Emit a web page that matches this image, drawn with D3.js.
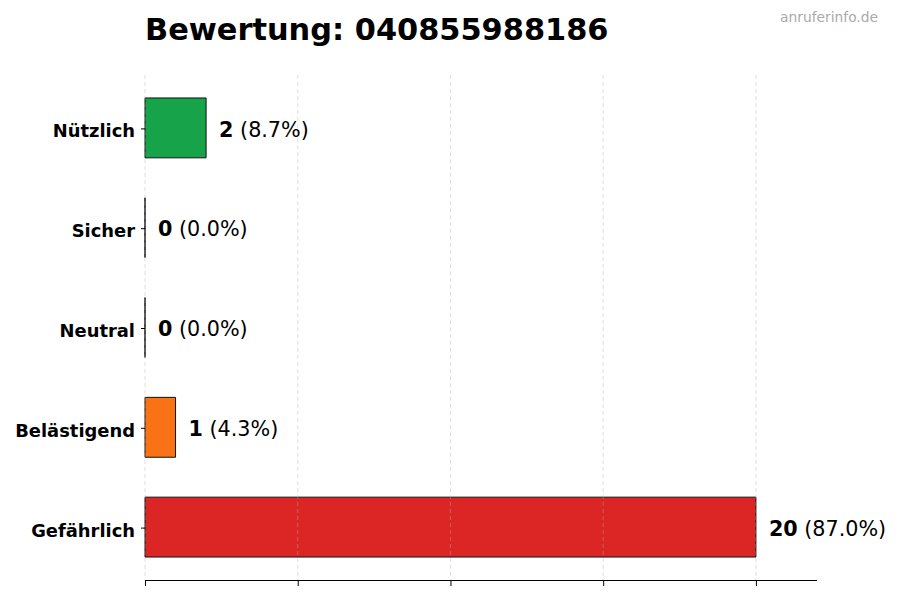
<!DOCTYPE html>
<html>
<head>
<meta charset="utf-8">
<script src="https://cdn.jsdelivr.net/npm/d3@7"></script>
<style>
  body { margin: 0; background: #fff; }
  svg { font-family: "DejaVu Sans", sans-serif; }
</style>
</head>
<body>
<div id="chart"></div>
<script>
const categories = ["Gefährlich", "Belästigend", "Neutral", "Sicher", "Nützlich"];
const counts = [20, 1, 0, 0, 2];
const percents = ["87.0%", "4.3%", "0.0%", "0.0%", "8.7%"];
const colors = ["#dc2626", "#f97316", "#9ca3af", "#3b82f6", "#16a34a"];
const xTicks = [0, 5, 10, 15, 20];
const title = "Bewertung: 040855988186";

const width = 900, height = 600;
const plotLeft = 145, plotRight = 817, plotTop = 75, plotBottom = 580;

const svg = d3.select("#chart")
    .append("svg")
    .attr("width", width)
    .attr("height", height);

const x = d3.scaleLinear()
    .domain([0, d3.max(counts) * 1.1])
    .range([plotLeft, plotRight]);

// index 0 at the bottom, bars 0.6 high, 5% margins
const y = d3.scaleLinear()
    .domain([-0.53, categories.length - 1 + 0.53])
    .range([plotBottom, plotTop]);

// bars as paths so that zero values still show their outline
svg.selectAll("path.bar")
    .data(counts)
    .enter()
    .append("path")
    .attr("class", "bar")
    .attr("d", (d, i) => {
        const y0 = y(i + 0.3), y1 = y(i - 0.3);
        return `M${x(0)},${y0}H${x(d)}V${y1}H${x(0)}Z`;
    })
    .attr("fill", (d, i) => colors[i])
    .attr("stroke", "#111")
    .attr("stroke-width", 1);

// dashed grid, drawn over the bars
svg.selectAll("line.grid")
    .data(xTicks)
    .enter()
    .append("line")
    .attr("class", "grid")
    .attr("x1", d => x(d))
    .attr("x2", d => x(d))
    .attr("y1", plotTop)
    .attr("y2", plotBottom)
    .attr("stroke", "#b0b0b0")
    .attr("stroke-opacity", 0.5)
    .attr("stroke-width", 0.8)
    .attr("stroke-dasharray", "4,3");

// x axis: spine + ticks, no labels
const xAxis = d3.axisBottom(x)
    .tickValues(xTicks)
    .tickSize(6)
    .tickFormat("");
svg.append("g")
    .attr("transform", `translate(0,${plotBottom})`)
    .call(xAxis)
    .call(g => g.select(".domain").attr("stroke", "#000").attr("stroke-width", 1.2)
        .attr("d", `M${plotLeft},0.5H${plotRight}`))
    .call(g => g.selectAll(".tick line").attr("stroke", "#000"));

// y ticks and labels, no spine
const yAxis = d3.axisLeft(y)
    .tickValues(d3.range(categories.length))
    .tickSize(4)
    .tickPadding(6)
    .tickFormat(i => categories[i]);
svg.append("g")
    .attr("transform", `translate(${plotLeft},0.5)`)
    .call(yAxis)
    .call(g => g.select(".domain").remove())
    .call(g => g.selectAll(".tick text")
        .attr("font-family", "DejaVu Sans")
        .attr("font-size", 17.9)
        .attr("font-weight", "bold")
        .attr("dy", "0.48em")
        .attr("fill", "#000"));

// value labels
const lbl = svg.selectAll("text.val")
    .data(counts)
    .enter()
    .append("text")
    .attr("class", "val")
    .attr("x", d => x(d) + 13)
    .attr("y", (d, i) => y(i))
    .attr("dy", "0.42em")
    .attr("font-size", 20.7)
    .attr("fill", "#000");
lbl.append("tspan").attr("font-weight", "bold").text(d => d);
lbl.append("tspan").text((d, i) => ` (${percents[i]})`);

// title
svg.append("text")
    .attr("x", plotLeft)
    .attr("y", 40)
    .attr("font-size", 30.4)
    .attr("font-weight", "bold")
    .attr("fill", "#000")
    .text(title);

// watermark
svg.append("text")
    .attr("x", 878)
    .attr("y", 22)
    .attr("text-anchor", "end")
    .attr("font-size", 13.8)
    .attr("fill", "#aaa")
    .text("anruferinfo.de");
</script>
</body>
</html>
